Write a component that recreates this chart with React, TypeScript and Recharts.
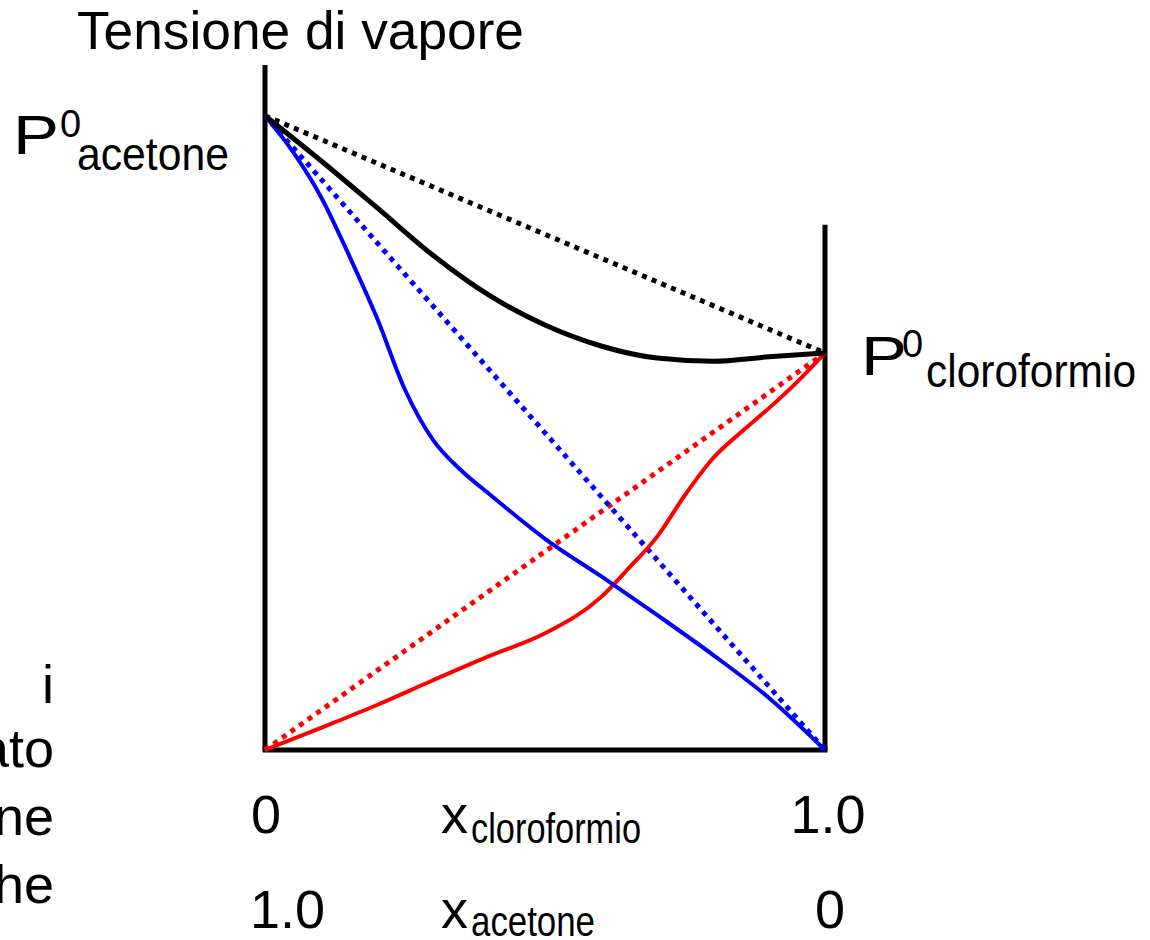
import React from "react";
import { LineChart, Line, XAxis, YAxis, ReferenceLine } from "recharts";

// x = mole fraction of chloroform, y = vapour pressure (P0 acetone = 1)
const totalPressure = [
  { x: 0, y: 1.0 },
  { x: 0.1, y: 0.929 },
  { x: 0.2, y: 0.855 },
  { x: 0.3, y: 0.78 },
  { x: 0.4, y: 0.717 },
  { x: 0.5, y: 0.67 },
  { x: 0.6, y: 0.637 },
  { x: 0.7, y: 0.618 },
  { x: 0.8, y: 0.613 },
  { x: 0.9, y: 0.62 },
  { x: 1.0, y: 0.626 },
];

const acetonePressure = [
  { x: 0, y: 1.0 },
  { x: 0.05, y: 0.943 },
  { x: 0.1, y: 0.872 },
  { x: 0.15, y: 0.78 },
  { x: 0.2, y: 0.681 },
  { x: 0.25, y: 0.568 },
  { x: 0.3, y: 0.489 },
  { x: 0.35, y: 0.441 },
  { x: 0.4, y: 0.404 },
  { x: 0.5, y: 0.333 },
  { x: 0.6, y: 0.274 },
  { x: 0.7, y: 0.213 },
  { x: 0.8, y: 0.15 },
  { x: 0.9, y: 0.082 },
  { x: 1.0, y: 0.0 },
];

const chloroformPressure = [
  { x: 0, y: 0 },
  { x: 0.1, y: 0.035 },
  { x: 0.2, y: 0.071 },
  { x: 0.3, y: 0.11 },
  { x: 0.4, y: 0.148 },
  { x: 0.5, y: 0.184 },
  { x: 0.6, y: 0.241 },
  { x: 0.65, y: 0.287 },
  { x: 0.7, y: 0.336 },
  { x: 0.75, y: 0.402 },
  { x: 0.8, y: 0.46 },
  { x: 0.85, y: 0.501 },
  { x: 0.9, y: 0.539 },
  { x: 0.95, y: 0.58 },
  { x: 1.0, y: 0.626 },
];

// Raoult's law (ideal) straight lines
const idealTotal = [
  { x: 0, y: 1.0 },
  { x: 1, y: 0.626 },
];
const idealAcetone = [
  { x: 0, y: 1.0 },
  { x: 1, y: 0 },
];
const idealChloroform = [
  { x: 0, y: 0 },
  { x: 1, y: 0.626 },
];

const yMax = 1.08;
const rightAxisTop = 0.828;
const xTicks = [0, 1];
const chloroformTickLabels = ["0", "1.0"];
const acetoneTickLabels = ["1.0", "0"];
const cutLabels = ["i", "ato", "ne", "he"];

const FONT = "'Liberation Sans', Arial, Helvetica, sans-serif";

const BottomTick = (props: any) => {
  const { x, index } = props;
  return (
    <g>
      <text x={index === 0 ? x + 1 : x + 3} y={833} textAnchor="middle" fontSize={54} fontFamily={FONT} fill="#000">
        {chloroformTickLabels[index]}
      </text>
      <text
        x={index === 0 ? x - 15 : x + 5}
        y={928}
        textAnchor={index === 0 ? "start" : "middle"}
        fontSize={54}
        fontFamily={FONT}
        fill="#000"
      >
        {acetoneTickLabels[index]}
      </text>
    </g>
  );
};

export default function App() {
  const dotted = "5 5.5";
  return (
    <div style={{ position: "absolute", left: 0, top: 0, width: 1150, height: 940, background: "#fff" }}>
      <LineChart
        width={1150}
        height={940}
        margin={{ top: 65, right: 325, bottom: 189, left: 264 }}
      >
        <XAxis
          type="number"
          dataKey="x"
          domain={[0, 1]}
          ticks={xTicks}
          height={1}
          tickLine={false}
          axisLine={false}
          tick={<BottomTick />}
          interval={0}
        />
        <YAxis
          type="number"
          dataKey="y"
          domain={[0, yMax]}
          width={1}
          tick={false}
          tickLine={false}
          axisLine={false}
        />
        <ReferenceLine
          segment={[
            { x: 0, y: 0 },
            { x: 0, y: yMax },
          ]}
          stroke="#000"
          strokeWidth={5}
        />
        <ReferenceLine
          segment={[
            { x: 0, y: 0 },
            { x: 1, y: 0 },
          ]}
          stroke="#000"
          strokeWidth={5}
          strokeLinecap="square"
        />
        <ReferenceLine
          segment={[
            { x: 1, y: 0 },
            { x: 1, y: rightAxisTop },
          ]}
          stroke="#000"
          strokeWidth={5}
        />
        <Line data={idealTotal} dataKey="y" type="linear" stroke="#000" strokeWidth={5} strokeDasharray={dotted} dot={false} isAnimationActive={false} />
        <Line data={idealChloroform} dataKey="y" type="linear" stroke="#ff0000" strokeWidth={5} strokeDasharray={dotted} dot={false} isAnimationActive={false} />
        <Line data={idealAcetone} dataKey="y" type="linear" stroke="#0000ff" strokeWidth={5} strokeDasharray={dotted} dot={false} isAnimationActive={false} />
        <Line data={chloroformPressure} dataKey="y" type="monotone" stroke="#ff0000" strokeWidth={4} dot={false} isAnimationActive={false} />
        <Line data={acetonePressure} dataKey="y" type="monotone" stroke="#0000ff" strokeWidth={4} dot={false} isAnimationActive={false} />
        <Line data={totalPressure} dataKey="y" type="monotone" stroke="#000" strokeWidth={5} dot={false} isAnimationActive={false} />
      </LineChart>
      <svg
        width={1150}
        height={940}
        style={{ position: "absolute", left: 0, top: 0, pointerEvents: "none" }}
        fontFamily={FONT}
        fill="#000"
      >
        <text x={77} y={49} fontSize={53} textLength={447} lengthAdjust="spacingAndGlyphs">
          Tensione di vapore
        </text>

        <text x={13} y={154} fontSize={56} textLength={46} lengthAdjust="spacingAndGlyphs">P</text>
        <text x={60} y={137} fontSize={38}>0</text>
        <text x={77} y={170} fontSize={46} textLength={152} lengthAdjust="spacingAndGlyphs">acetone</text>

        <text x={861} y={375} fontSize={56} textLength={46} lengthAdjust="spacingAndGlyphs">P</text>
        <text x={902} y={357} fontSize={38}>0</text>
        <text x={926} y={387} fontSize={46} textLength={210} lengthAdjust="spacingAndGlyphs">cloroformio</text>

        <text x={441} y={833} fontSize={54}>x</text>
        <text x={471} y={843} fontSize={42} textLength={170} lengthAdjust="spacingAndGlyphs">cloroformio</text>
        <text x={441} y={928} fontSize={54}>x</text>
        <text x={471} y={936} fontSize={42} textLength={124} lengthAdjust="spacingAndGlyphs">acetone</text>

        {cutLabels.map((t, i) => (
          <text key={t} x={54} y={[703, 767, 835, 903][i]} fontSize={54} textAnchor="end">
            {t}
          </text>
        ))}
      </svg>
    </div>
  );
}
